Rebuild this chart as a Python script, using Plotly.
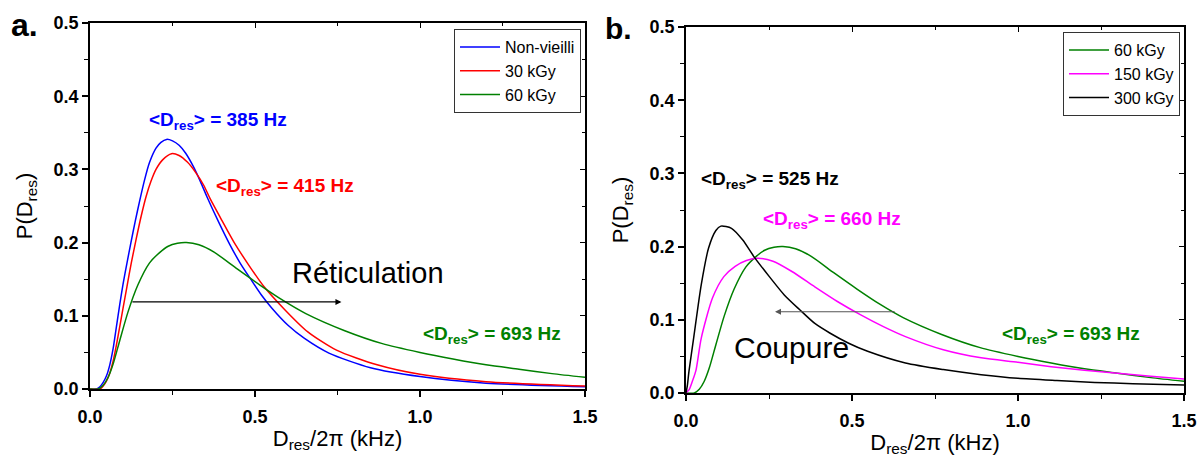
import plotly.graph_objects as go

# ---------------- data ----------------
# Panel a
x_nonvieilli = [0, 0.02, 0.03, 0.04, 0.05, 0.06, 0.07, 0.08, 0.09, 0.1, 0.112, 0.124, 0.137, 0.15, 0.165,
                0.18, 0.2, 0.215, 0.232, 0.25, 0.27, 0.29, 0.313, 0.335, 0.355, 0.39, 0.423, 0.455, 0.487,
                0.52, 0.55, 0.6, 0.65, 0.724, 0.85, 1.0, 1.2, 1.5]
y_nonvieilli = [0, 0, 0.003, 0.009, 0.018, 0.033, 0.055, 0.085, 0.115, 0.143, 0.172, 0.2, 0.229, 0.256, 0.285,
                0.309, 0.329, 0.337, 0.341, 0.339, 0.333, 0.322, 0.304, 0.283, 0.262, 0.228, 0.198, 0.172, 0.15,
                0.128, 0.111, 0.087, 0.069, 0.049, 0.029, 0.017, 0.008, 0.003]

x_30kgy = [0, 0.03, 0.04, 0.05, 0.06, 0.07, 0.08, 0.09, 0.1, 0.112, 0.125, 0.14, 0.155, 0.17, 0.185, 0.2,
           0.22, 0.247, 0.27, 0.295, 0.32, 0.345, 0.364, 0.4, 0.437, 0.48, 0.527, 0.591, 0.66, 0.747,
           0.87, 1.0, 1.2, 1.5]
y_30kgy = [0, 0, 0.004, 0.011, 0.022, 0.038, 0.06, 0.085, 0.11, 0.14, 0.172, 0.205, 0.236, 0.263, 0.284, 0.3,
           0.313, 0.3215, 0.319, 0.31, 0.296, 0.278, 0.26, 0.23, 0.2, 0.17, 0.14, 0.108, 0.078, 0.053,
           0.033, 0.02, 0.01, 0.004]

# 60 kGy (shown in both panels)
x_60kgy = [0, 0.025, 0.04, 0.055, 0.07, 0.09, 0.115, 0.145, 0.18, 0.21, 0.237, 0.265, 0.292, 0.33,
           0.376, 0.446, 0.515, 0.585, 0.654, 0.77, 0.886, 1.0, 1.1, 1.2, 1.3, 1.4, 1.5]
y_60kgy = [0, 0, 0.005, 0.016, 0.034, 0.066, 0.105, 0.142, 0.172, 0.186, 0.195, 0.199, 0.2, 0.197,
           0.187, 0.164, 0.142, 0.121, 0.103, 0.08, 0.062, 0.05, 0.041, 0.033, 0.027, 0.021, 0.016]

# Panel b
x_150kgy = [0, 0.01, 0.02, 0.03, 0.046, 0.08, 0.114, 0.148, 0.182, 0.217, 0.262, 0.319, 0.388, 0.456,
            0.525, 0.593, 0.661, 0.775, 0.889, 1.0, 1.1, 1.2, 1.3, 1.4, 1.5]
y_150kgy = [0, 0.005, 0.017, 0.031, 0.075, 0.13, 0.159, 0.173, 0.181, 0.184, 0.18, 0.166, 0.145, 0.125,
            0.107, 0.091, 0.077, 0.059, 0.048, 0.042, 0.036, 0.031, 0.027, 0.023, 0.019]

x_300kgy = [0, 0.004, 0.009, 0.023, 0.046, 0.068, 0.09, 0.105, 0.137, 0.171, 0.205, 0.251, 0.296, 0.342,
            0.388, 0.433, 0.49, 0.547, 0.661, 0.775, 0.889, 1.0, 1.117, 1.231, 1.346, 1.5]
y_300kgy = [0, 0.01, 0.03, 0.075, 0.148, 0.198, 0.222, 0.228, 0.225, 0.209, 0.186, 0.159, 0.134, 0.114,
            0.095, 0.082, 0.068, 0.057, 0.041, 0.032, 0.025, 0.02, 0.017, 0.0145, 0.0127, 0.011]

x_ticks = [0.0, 0.5, 1.0, 1.5]
y_ticks = [0.0, 0.1, 0.2, 0.3, 0.4, 0.5]

FONT = "Liberation Sans, Arial, sans-serif"

fig = go.Figure()

def add_curve(x, y, name, color, xa, ya, legend):
    fig.add_trace(go.Scatter(x=x, y=y, name=name, mode="lines",
                             line=dict(color=color, width=1.5, shape="spline", smoothing=0.7),
                             xaxis=xa, yaxis=ya, legend=legend))

add_curve(x_nonvieilli, y_nonvieilli, "Non-vieilli", "#0000ff", "x", "y", "legend")
add_curve(x_30kgy, y_30kgy, "30 kGy", "#ff0000", "x", "y", "legend")
add_curve(x_60kgy, y_60kgy, "60 kGy", "#008000", "x", "y", "legend")
add_curve(x_60kgy, y_60kgy, "60 kGy", "#008000", "x2", "y2", "legend2")
add_curve(x_150kgy, y_150kgy, "150 kGy", "#ff00ff", "x2", "y2", "legend2")
add_curve(x_300kgy, y_300kgy, "300 kGy", "#000000", "x2", "y2", "legend2")

# empty helper traces so that the mirrored (inside-tick) axes are drawn
for xa, ya in (("x3", "y3"), ("x4", "y4")):
    fig.add_trace(go.Scatter(x=[None], y=[None], xaxis=xa, yaxis=ya, showlegend=False,
                             hoverinfo="skip", mode="lines"))

W, H = 1197, 459
def px(v):
    return v / W
def py(v):
    return 1 - v / H

tickfont = dict(family=FONT, size=18, color="black", weight="bold")
titlefont = dict(family=FONT, size=22, color="black")

def main_x(domain, anchor):
    return dict(domain=domain, anchor=anchor, range=[0, 1.5], tickvals=x_ticks, tickformat=".1f",
                ticks="outside", ticklen=6, tickwidth=1.5, tickcolor="black",
                minor=dict(dtick=0.25, tick0=0, ticks="outside", ticklen=4, tickwidth=1.2, tickcolor="black"),
                showline=True, linecolor="black", linewidth=1.5, mirror=True,
                showgrid=False, zeroline=False, tickfont=tickfont, automargin=False,
                ticklabelstandoff=5, ticklabeloverflow="allow",
                title=dict(text="D<sub>res</sub>/2π (kHz)", font=titlefont, standoff=4))

def main_y(domain, anchor):
    return dict(domain=domain, anchor=anchor, range=[0, 0.5], tickvals=y_ticks, tickformat=".1f",
                ticks="outside", ticklen=6, tickwidth=1.5, tickcolor="black",
                minor=dict(dtick=0.05, tick0=0, ticks="outside", ticklen=4, tickwidth=1.2, tickcolor="black"),
                showline=True, linecolor="black", linewidth=1.5, mirror=True,
                showgrid=False, zeroline=False, tickfont=tickfont, automargin=False,
                ticklabeloverflow="allow",
                title=dict(text="P(D<sub>res</sub>)", font=titlefont, standoff=15))

def mirror_x(over, anchor):
    return dict(overlaying=over, anchor=anchor, side="top", range=[0, 1.5], tickvals=x_ticks,
                ticks="inside", ticklen=5, tickwidth=1.2, tickcolor="black",
                minor=dict(dtick=0.25, tick0=0, ticks="inside", ticklen=3, tickcolor="black"),
                showticklabels=False, showgrid=False, zeroline=False, showline=False)

def mirror_y(over, anchor):
    return dict(overlaying=over, anchor=anchor, side="right", range=[0, 0.5], tickvals=y_ticks,
                ticks="inside", ticklen=5, tickwidth=1.2, tickcolor="black",
                minor=dict(dtick=0.05, tick0=0, ticks="inside", ticklen=3, tickcolor="black"),
                showticklabels=False, showgrid=False, zeroline=False, showline=False)

legend_style = dict(font=dict(family=FONT, size=16, color="black"), bgcolor="white",
                    bordercolor="#333333", borderwidth=1, xanchor="right", yanchor="top",
                    tracegroupgap=0, itemwidth=40)

ann = []
def label(text, x, y, xref, yref, color, size=19, bold=True):
    ann.append(dict(text=text, x=x, y=y, xref=xref, yref=yref, xanchor="left", yanchor="middle",
                    showarrow=False, font=dict(family=FONT, size=size, color=color,
                                               weight="bold" if bold else "normal")))

# panel a
label("&lt;D<sub>res</sub>&gt; = 385 Hz", 0.173, 0.366, "x", "y", "#0000ff")
label("&lt;D<sub>res</sub>&gt; = 415 Hz", 0.376, 0.276, "x", "y", "#ff0000")
label("&lt;D<sub>res</sub>&gt; = 693 Hz", 1.003, 0.074, "x", "y", "#008000")
label("Réticulation", 0.606, 0.158, "x", "y", "black", size=29, bold=False)
ann.append(dict(x=0.762, y=0.119, ax=0.124, ay=0.119, xref="x", yref="y", axref="x", ayref="y",
                showarrow=True, arrowhead=2, arrowsize=1, arrowwidth=1.2, arrowcolor="black", text=""))
# panel b
label("&lt;D<sub>res</sub>&gt; = 525 Hz", 0.039, 0.291, "x2", "y2", "black")
label("&lt;D<sub>res</sub>&gt; = 660 Hz", 0.226, 0.236, "x2", "y2", "#ff00ff")
label("&lt;D<sub>res</sub>&gt; = 693 Hz", 0.946, 0.079, "x2", "y2", "#008000")
label("Coupure", 0.139, 0.0615, "x2", "y2", "black", size=30, bold=False)
ann.append(dict(x=0.268, y=0.111, ax=0.633, ay=0.111, xref="x2", yref="y2", axref="x2", ayref="y2",
                showarrow=True, arrowhead=2, arrowsize=1, arrowwidth=1.2, arrowcolor="#555555", text=""))
# panel letters
label("a.", px(9), py(25), "paper", "paper", "black", size=32)
label("b.", px(603), py(28), "paper", "paper", "black", size=30)

fig.update_layout(
    width=W, height=H, margin=dict(l=0, r=0, t=0, b=0), autosize=False,
    paper_bgcolor="white", plot_bgcolor="white",
    font=dict(family=FONT, color="black"),
    xaxis=main_x([px(90), px(585)], "y"),
    yaxis=main_y([1 - 389 / H, 1 - 23 / H], "x"),
    xaxis2=main_x([px(686), px(1184)], "y2"),
    yaxis2=main_y([1 - 393 / H, 1 - 27 / H], "x2"),
    xaxis3=mirror_x("x", "y"),
    yaxis3=mirror_y("y", "x"),
    xaxis4=mirror_x("x2", "y2"),
    yaxis4=mirror_y("y2", "x2"),
    legend=dict(x=px(581), y=py(29), **legend_style),
    legend2=dict(x=px(1180), y=py(32), **legend_style),
    annotations=ann,
    showlegend=True,
)

fig.write_html("out.html", config={"displayModeBar": False},
               post_script="document.body.style.margin='0';document.body.style.overflow='hidden';")
